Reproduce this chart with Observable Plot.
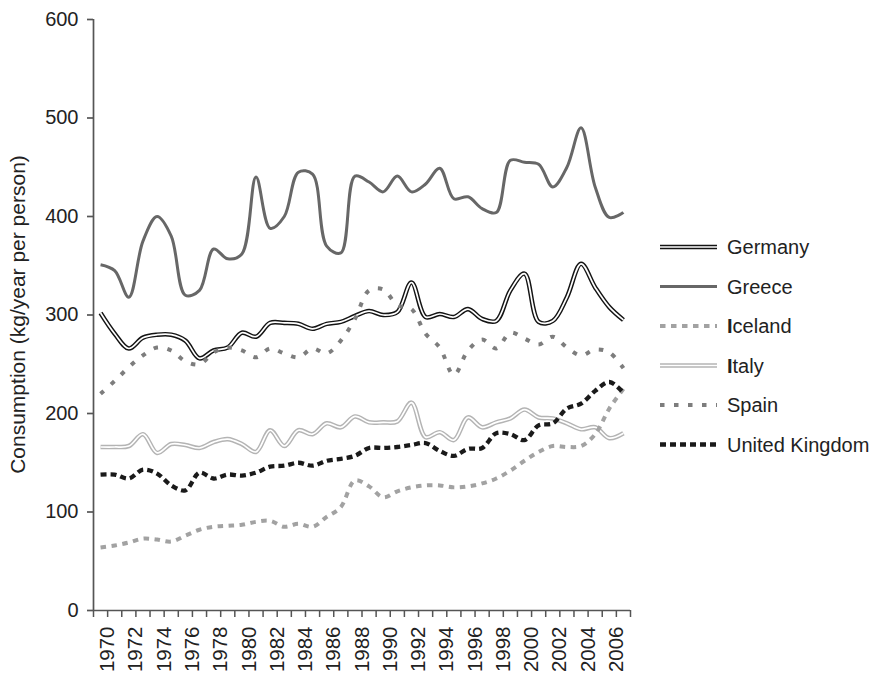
<!DOCTYPE html>
<html><head><meta charset="utf-8">
<script src="https://cdn.jsdelivr.net/npm/d3@7"></script>
<script src="https://cdn.jsdelivr.net/npm/@observablehq/plot@0.6"></script>
<style>
html,body{margin:0;padding:0;background:#fff;}
#chart svg{display:block;}
</style>
</head><body><div id="chart"></div>
<script>
// ---- data ----
const years = [1970,1971,1972,1973,1974,1975,1976,1977,1978,1979,1980,1981,1982,1983,1984,1985,1986,1987,1988,1989,1990,1991,1992,1993,1994,1995,1996,1997,1998,1999,2000,2001,2002,2003,2004,2005,2006,2007];
const germany = [302,281,266,277,280,280,274,256,264,267,282,278,292,292,291,286,291,293,299,304,300,303,333,298,301,298,306,296,294,325,342,293,294,318,352,328,308,295];
const greece  = [351,345,318,375,400,380,320,325,367,357,362,440,388,400,445,443,370,363,441,435,425,441,425,433,449,418,420,408,404,457,455,453,430,450,490,430,399,404];
const iceland = [64,66,69,73,72,70,76,82,85,86,87,90,91,85,88,85,95,105,132,126,115,121,125,127,127,125,126,129,134,142,152,161,167,166,167,179,205,225];
const italy   = [166,166,167,179,160,169,168,165,171,174,169,161,183,167,183,179,190,186,197,191,191,192,211,176,181,173,196,186,191,195,204,196,195,190,184,186,175,180];
const spain   = [220,233,247,259,267,264,253,250,262,267,264,257,266,261,257,266,261,274,296,325,326,310,306,281,267,239,264,275,266,282,276,270,278,267,259,265,262,246];
const uk      = [138,138,134,143,139,127,122,140,134,138,137,140,146,147,150,147,152,154,157,165,165,166,168,170,162,157,164,165,180,179,173,188,190,205,210,223,232,221];
const countries = ["Germany","Greece","Iceland","Italy","Spain","United Kingdom"];
const yTicks = [0,100,200,300,400,500,600];
const xTickYears = d3.range(1969, 2008);
const yTitle = "Consumption (kg/year per person)";

// ---- build table ----
const seriesValues = {"Germany": germany, "Greece": greece, "Iceland": iceland, "Italy": italy, "Spain": spain, "United Kingdom": uk};
const rows = countries.flatMap(c => years.map((yr, i) => ({country: c, year: yr, value: seriesValues[c][i]})));

// ---- styles ----
const styles = {
  "Germany": [{stroke: "#141414", strokeWidth: 4.6}, {stroke: "#fff", strokeWidth: 1.7}],
  "Greece": [{stroke: "#676767", strokeWidth: 3}],
  "Iceland": [{stroke: "#a2a2a2", strokeWidth: 4, strokeDasharray: "5.5,5.5"}],
  "Italy": [{stroke: "#b4b4b4", strokeWidth: 4.6}, {stroke: "#fff", strokeWidth: 1.7}],
  "Spain": [{stroke: "#7d7d7d", strokeWidth: 4, strokeDasharray: "4.5,9.5"}],
  "United Kingdom": [{stroke: "#1a1a1a", strokeWidth: 4.3, strokeDasharray: "6,4"}]
};
const drawOrder = ["Germany","Greece","Italy","Iceland","Spain","United Kingdom"];
const FONT = "'Liberation Sans', Arial, Helvetica, sans-serif";
const AXIS = "#555";

const lineMarks = drawOrder.flatMap(c => styles[c].map(s =>
  Plot.line(rows.filter(r => r.country === c), {
    x: d => d.year - 0.5, y: "value", curve: "catmull-rom",
    strokeLinejoin: "round", strokeLinecap: "butt", ...s
  })
));

const chart = Plot.plot({
  width: 884, height: 676,
  marginLeft: 93, marginRight: 254, marginTop: 19, marginBottom: 66,
  style: {fontFamily: FONT, background: "#fff", color: "#222", overflow: "visible"},
  x: {domain: [1969, 2007]},
  y: {domain: [0, 600]},
  marks: [
    Plot.axisY({ticks: yTicks, tickSize: 6, tickPadding: 9, fontSize: 20, stroke: AXIS, strokeWidth: 1.7,
      fill: "#222", label: null}),
    Plot.axisX({ticks: xTickYears, tickFormat: d => d % 2 === 0 ? String(d) : "", tickRotate: -90,
      tickSize: 7, tickPadding: 9, fontSize: 20.5, stroke: AXIS, strokeWidth: 1.5, fill: "#222", label: null}),
    Plot.ruleX([1969], {y1: 0, y2: 600, stroke: AXIS, strokeWidth: 1.7}),
    Plot.ruleY([0], {x1: 1969, x2: 2007, stroke: AXIS, strokeWidth: 1.5}),
    ...lineMarks
  ]
});
document.getElementById("chart").appendChild(chart);

const svg = d3.select(chart);
const yScale = chart.scale("y");

// ---- y title ----
svg.append("text")
  .attr("transform", `translate(18,${yScale.apply(300)}) rotate(-90)`)
  .attr("text-anchor", "middle").attr("dy", "0.35em")
  .attr("font-family", FONT).attr("font-size", 21).attr("fill", "#222")
  .text(yTitle);

// ---- legend (right side, inside the same svg) ----
const lg = svg.append("g").attr("font-family", FONT).attr("font-size", 20).attr("fill", "#222")
  .attr("text-anchor", "start");
const lx0 = 660, lx1 = 717, ly0 = 247, lstep = 39.5;
countries.forEach((c, i) => {
  const y = ly0 + i * lstep;
  styles[c].forEach(s => {
    lg.append("line").attr("x1", lx0).attr("x2", lx1).attr("y1", y).attr("y2", y)
      .attr("stroke", s.stroke).attr("stroke-width", s.strokeWidth)
      .attr("stroke-dasharray", s.strokeDasharray || null);
  });
  const t = lg.append("text").attr("x", lx1 + 10).attr("y", y).attr("dy", "0.36em")
    .attr("text-anchor", "start");
  if (c.startsWith("I")) {
    t.append("tspan").attr("font-weight", "bold").text(c[0]);
    t.append("tspan").text(c.slice(1));
  } else {
    t.text(c);
  }
});
</script>
</body></html>
